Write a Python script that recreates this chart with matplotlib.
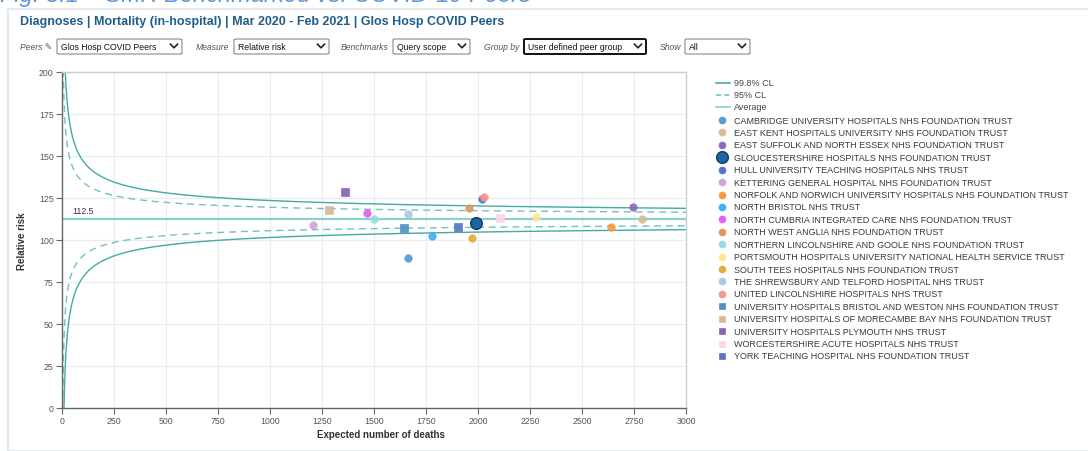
import numpy as np
import matplotlib
matplotlib.use("Agg")
import matplotlib.pyplot as plt
from matplotlib.lines import Line2D
from matplotlib.patches import Rectangle, FancyBboxPatch

plt.rcParams['font.family'] = ['Liberation Sans', 'DejaVu Sans']

W, H = 1088, 452

# ---------------- data ----------------
trusts = [
    "CAMBRIDGE UNIVERSITY HOSPITALS NHS FOUNDATION TRUST",
    "EAST KENT HOSPITALS UNIVERSITY NHS FOUNDATION TRUST",
    "EAST SUFFOLK AND NORTH ESSEX NHS FOUNDATION TRUST",
    "GLOUCESTERSHIRE HOSPITALS NHS FOUNDATION TRUST",
    "HULL UNIVERSITY TEACHING HOSPITALS NHS TRUST",
    "KETTERING GENERAL HOSPITAL NHS FOUNDATION TRUST",
    "NORFOLK AND NORWICH UNIVERSITY HOSPITALS NHS FOUNDATION TRUST",
    "NORTH BRISTOL NHS TRUST",
    "NORTH CUMBRIA INTEGRATED CARE NHS FOUNDATION TRUST",
    "NORTH WEST ANGLIA NHS FOUNDATION TRUST",
    "NORTHERN LINCOLNSHIRE AND GOOLE NHS FOUNDATION TRUST",
    "PORTSMOUTH HOSPITALS UNIVERSITY NATIONAL HEALTH SERVICE TRUST",
    "SOUTH TEES HOSPITALS NHS FOUNDATION TRUST",
    "THE SHREWSBURY AND TELFORD HOSPITAL NHS TRUST",
    "UNITED LINCOLNSHIRE HOSPITALS NHS TRUST",
    "UNIVERSITY HOSPITALS BRISTOL AND WESTON NHS FOUNDATION TRUST",
    "UNIVERSITY HOSPITALS OF MORECAMBE BAY NHS FOUNDATION TRUST",
    "UNIVERSITY HOSPITALS PLYMOUTH NHS TRUST",
    "WORCESTERSHIRE ACUTE HOSPITALS NHS TRUST",
    "YORK TEACHING HOSPITAL NHS FOUNDATION TRUST",
]
expected_deaths = [1663, 2787, 2744, 1989, 2018, 1208, 2639, 1779, 1465, 1955,
                   1502, 2277, 1971, 1663, 2027, 1644, 1285, 1360, 2106, 1902]
relative_risk = [89.1, 112.5, 119.4, 110.1, 124.4, 109.1, 107.7, 102.6, 116.1, 118.9,
                 112.5, 113.5, 101.2, 115.5, 125.8, 107.0, 117.9, 128.8, 112.9, 107.5]

average_rr = 112.5
z_998 = 3.09
z_95 = 1.96

x_ticks = list(range(0, 3001, 250))
y_ticks = list(range(0, 201, 25))

# ---------------- styles ----------------
colors = ['#5a9bd0', '#d9bb97', '#8e69bd', '#1c64a4', '#5b72c4', '#d3a3d6',
          '#f79b3a', '#3eaef5', '#df62f0', '#e1955d', '#92e0dc', '#fbe88e',
          '#deb038', '#a9c9e6', '#f7998c', '#4f8fc6', '#d8b898', '#8c62b2',
          '#fcd5e6', '#5876c6']
markers = ['o'] * 15 + ['s'] * 5
sizes = [5.4] * 20
sizes[3] = 8.4

teal = '#43aaa5'
teal_dash = '#70c2bd'
teal_avg = '#8ad0cc'

fig = plt.figure(figsize=(W / 100, H / 100), dpi=100)

def fx(px):
    return px / W

def fy(py):
    return 1 - py / H

# outer panel border
fig.add_artist(Rectangle((fx(8), fy(452)), fx(1090) - fx(8), fy(10) - fy(452),
                         transform=fig.transFigure, facecolor='white',
                         edgecolor='#dfe5ea', lw=1.2, zorder=0))

# cut-off top title
fig.text(fx(0), fy(2), "Fig. 8.1 \u2013 SMR Benchmarked vs. COVID-19 Peers",
         fontsize=17, color='#5c9ad6', style='italic', va='baseline', ha='left')

# header
fig.text(fx(20), fy(22), "Diagnoses | Mortality (in-hospital) | Mar 2020 - Feb 2021 | Glos Hosp COVID Peers",
         fontsize=9.0, fontweight='bold', color='#1f5e8a', va='center', ha='left')

# controls row
cy = 47
ctrl_fs = 6.2

def dropdown(x0, x1, text, thick=False):
    fig.add_artist(FancyBboxPatch((fx(x0), fy(55)), fx(x1) - fx(x0), fy(40) - fy(55),
                                  boxstyle='round,pad=0,rounding_size=0.002',
                                  transform=fig.transFigure, facecolor='white',
                                  edgecolor='#111111' if thick else '#8a8a8a',
                                  lw=1.4 if thick else 0.8))
    fig.text(fx(x0 + 4), fy(cy), text, fontsize=ctrl_fs, color='#111111',
             va='center', ha='left')
    cx = x1 - 8
    fig.add_artist(Line2D([fx(cx - 3.5), fx(cx), fx(cx + 3.5)],
                          [fy(cy - 1.8), fy(cy + 1.8), fy(cy - 1.8)],
                          transform=fig.transFigure, color='#222222', lw=1.2))

def label(x, text):
    fig.text(fx(x), fy(cy), text, fontsize=ctrl_fs, color='#555555',
             style='italic', va='center', ha='left')

label(20, "Peers \u270e")
dropdown(57, 182, "Glos Hosp COVID Peers")
label(196, "Measure")
dropdown(234, 329, "Relative risk")
label(341, "Benchmarks")
dropdown(393, 470, "Query scope")
label(484, "Group by")
dropdown(524, 646, "User defined peer group", thick=True)
label(660, "Show")
dropdown(685, 750, "All")

# ---------------- axes ----------------
ax = fig.add_axes([fx(62), fy(409), fx(686) - fx(62), fy(73) - fy(409)])
ax.set_xlim(0, 3000)
ax.set_ylim(0, 200)
ax.set_xticks(x_ticks)
ax.set_yticks(y_ticks)
ax.grid(True, color='#ececec', lw=0.8, zorder=0)
ax.set_axisbelow(True)
for s in ['left', 'bottom']:
    ax.spines[s].set_color('#666666')
    ax.spines[s].set_linewidth(1.0)
for s in ['top', 'right']:
    ax.spines[s].set_color('#c3d0d6')
    ax.spines[s].set_linewidth(1.0)
ax.tick_params(direction='out', length=4, width=0.8, color='#666666',
               labelsize=6.3, labelcolor='#555555', pad=2)

# funnel control limits
E = np.concatenate([np.geomspace(0.3, 60, 500), np.linspace(60, 3050, 800)])
up998 = average_rr * (1 + z_998 / np.sqrt(E))
lo998 = np.clip(average_rr * (1 - z_998 / np.sqrt(E)), 0, None)
up95 = average_rr * (1 + z_95 / np.sqrt(E))
lo95 = np.clip(average_rr * (1 - z_95 / np.sqrt(E)), 0, None)

ax.plot(E, up998, color=teal, lw=1.0, zorder=2)
ax.plot(E, lo998, color=teal, lw=1.0, zorder=2)
ax.plot(E, up95, color=teal_dash, lw=1.0, dashes=(5, 3.5), zorder=2)
ax.plot(E, lo95, color=teal_dash, lw=1.0, dashes=(5, 3.5), zorder=2)
ax.axhline(average_rr, color=teal_avg, lw=1.6, zorder=2)
ax.text(50, average_rr + 2.5, f"{average_rr}", fontsize=6.3, color='#333333',
        va='bottom', ha='left')

for i in range(len(trusts)):
    ec = '#0e3c68' if i == 3 else colors[i]
    ax.plot([expected_deaths[i]], [relative_risk[i]], linestyle='none',
            marker=markers[i], ms=sizes[i], color=colors[i], mec=ec,
            mew=1.0 if i == 3 else 0.5, alpha=0.92 if i != 3 else 1.0,
            zorder=4 if i == 3 else 3)

fig.text(fx(22), fy(241), "Relative risk", rotation=90, fontsize=7,
         fontweight='bold', color='#333333', va='center', ha='center')
fig.text(fx(381), fy(435), "Expected number of deaths", fontsize=7,
         fontweight='bold', color='#333333', va='center', ha='center')

# ---------------- legend ----------------
leg_fs = 6.45
line_items = [("99.8% CL", teal, '-'), ("95% CL", teal_dash, '--'), ("Average", teal_avg, '-')]
for k, (txt, c, ls) in enumerate(line_items):
    yy = 84 + 12 * k
    fig.add_artist(Line2D([fx(716), fx(730)], [fy(yy), fy(yy)], transform=fig.transFigure,
                          color=c, lw=1.2, linestyle=ls,
                          dashes=(3, 2) if ls == '--' else (None, None)))
    fig.text(fx(734), fy(yy), txt, fontsize=leg_fs, color='#444444', va='center', ha='left')

for i, name in enumerate(trusts):
    yy = 121 + i * 12.42
    ec = '#0e3c68' if i == 3 else colors[i]
    fig.add_artist(Line2D([fx(722)], [fy(yy)], transform=fig.transFigure, linestyle='none',
                          marker=markers[i], ms=sizes[i] if i == 3 else 5.0, color=colors[i],
                          mec=ec, mew=1.0 if i == 3 else 0.5))
    fig.text(fx(734), fy(yy), name, fontsize=leg_fs, color='#3a3a3a', va='center', ha='left')

fig.savefig("out.png", dpi=100)
